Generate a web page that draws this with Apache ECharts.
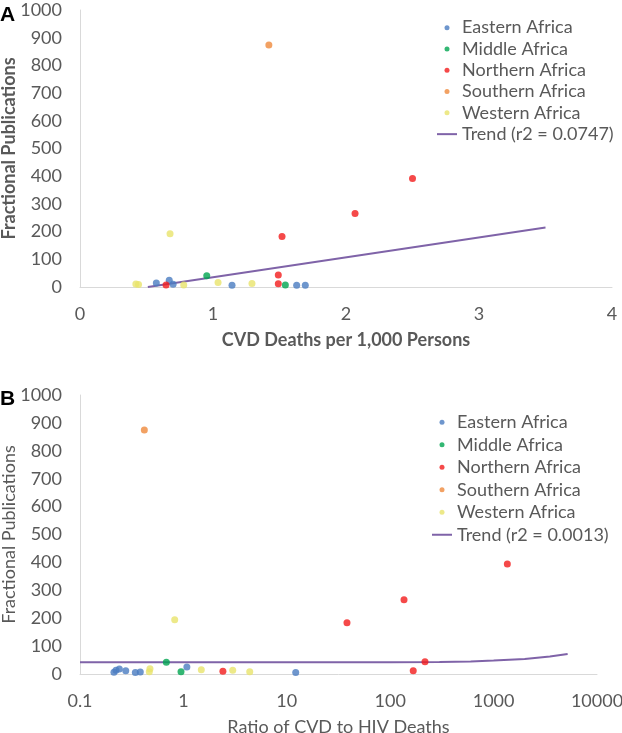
<!DOCTYPE html>
<html>
<head>
<meta charset="utf-8">
<script src="https://cdn.jsdelivr.net/npm/echarts@6/dist/echarts.min.js"></script>
<style>
  html, body { margin: 0; padding: 0; background: #fff; }
  #chart { width: 622px; height: 733px; }
</style>
</head>
<body>
<div id="chart"></div>
<script>
// region names and colours
const regions = ['Eastern Africa', 'Middle Africa', 'Northern Africa', 'Southern Africa', 'Western Africa'];
const regionColors = ['#4A7CC0', '#00A550', '#F21B1B', '#EF8A3C', '#E9E36C'];

// panel A: CVD deaths per 1,000 persons vs fractional publications
const deathsEastern = [[0.574, 14], [0.671, 24], [0.70, 10], [1.143, 6], [1.629, 6], [1.694, 6]];
const deathsMiddle = [[0.953, 41], [1.544, 7]];
const deathsNorthern = [[0.647, 7], [1.491, 43], [1.491, 12], [1.519, 182], [2.068, 265], [2.50, 392]];
const deathsSouthern = [[1.42, 874]];
const deathsWestern = [[0.42, 11], [0.44, 9], [0.677, 192], [0.78, 7], [1.038, 16], [1.293, 13]];
const trendA = [[0.51, 0], [3.5, 215]];

// panel B: ratio of CVD to HIV deaths vs fractional publications
const ratioEastern = [[0.213, 6], [0.223, 13], [0.24, 18], [0.277, 12], [0.343, 5], [0.383, 7], [1.08, 25], [12.2, 5]];
const ratioMiddle = [[0.684, 42], [0.948, 8]];
const ratioNorthern = [[2.41, 10], [38.2, 184], [136, 266], [167, 12], [217, 44], [1358, 394]];
const ratioSouthern = [[0.419, 875]];
const ratioWestern = [[0.468, 8], [0.475, 19], [0.824, 194], [1.49, 15], [3.0, 13], [4.38, 8]];
const trendB = [[0.1, 42], [100, 42], [300, 43], [600, 45], [1000, 48], [2000, 54], [3500, 63], [5200, 72]];

const trendNameA = 'Trend (r2 = 0.0747)';
const trendNameB = 'Trend (r2 = 0.0013)';

const font = 'Lato';
const fontSize = 18;
const grey = '#595959';
const axisGrey = '#D9D9D9';

const seriesA = [deathsEastern, deathsMiddle, deathsNorthern, deathsSouthern, deathsWestern];
const seriesB = [ratioEastern, ratioMiddle, ratioNorthern, ratioSouthern, ratioWestern];

const chart = echarts.init(document.getElementById('chart'));

function scatter(name, data, idx, color) {
  return {
    name: name,
    type: 'scatter',
    xAxisIndex: idx,
    yAxisIndex: idx,
    data: data,
    symbolSize: 7,
    itemStyle: { color: color },
    z: 3
  };
}

function legendFor(top, left, trendName, lineH) {
  const items = regions.map(function (r) { return { name: r, icon: 'circle' }; });
  items.push({ name: trendName, icon: 'path://M0,0 L20,0 L20,2 L0,2 Z' });
  return {
    orient: 'vertical',
    left: left,
    top: top,
    padding: 0,
    itemWidth: 20,
    itemHeight: 5,
    itemGap: 0,
    data: items,
    textStyle: { fontFamily: font, fontSize: fontSize, color: grey, lineHeight: lineH }
  };
}

const series = [];
regions.forEach(function (r, i) {
  series.push(scatter(r, seriesA[i], 0, regionColors[i]));
});
series.push({
  name: trendNameA, type: 'line', xAxisIndex: 0, yAxisIndex: 0,
  data: trendA, showSymbol: false, symbol: 'none',
  lineStyle: { color: '#7F63A8', width: 2 }, itemStyle: { color: '#7F63A8' }, z: 2
});
regions.forEach(function (r, i) {
  series.push(scatter(r, seriesB[i], 1, regionColors[i]));
});
series.push({
  name: trendNameB, type: 'line', xAxisIndex: 1, yAxisIndex: 1,
  data: trendB, showSymbol: false, symbol: 'none',
  lineStyle: { color: '#7F63A8', width: 2 }, itemStyle: { color: '#7F63A8' }, z: 2
});

const plain = function (v) { return String(Math.round(v * 10) / 10); };
const axisLabel = { fontFamily: font, fontSize: fontSize, color: grey, margin: 18, formatter: plain };
const titleStyle = { fontFamily: font, fontSize: fontSize, color: grey };
const boldTitle = Object.assign({}, titleStyle, { fontWeight: 'bold' });

const option = {
  animation: false,
  backgroundColor: '#fff',
  grid: [
    { left: 80, top: 10, width: 532, height: 277, outerBoundsMode: 'none' },
    { left: 80, top: 395, width: 517, height: 279, outerBoundsMode: 'none' }
  ],
  legend: [
    legendFor(17, 437, trendNameA, 21.3),
    legendFor(411, 432, trendNameB, 22.5)
  ],
  xAxis: [
    {
      gridIndex: 0, type: 'value', min: 0, max: 4, interval: 1,
      name: 'CVD Deaths per 1,000 Persons', nameLocation: 'middle', nameGap: 44,
      nameMoveOverlap: false,
      nameTextStyle: boldTitle,
      axisLine: { lineStyle: { color: axisGrey } },
      axisTick: { show: false },
      splitLine: { show: false },
      axisLabel: axisLabel
    },
    {
      gridIndex: 1, type: 'log', logBase: 10, min: 0.1, max: 10000,
      name: 'Ratio of CVD to HIV Deaths', nameLocation: 'middle', nameGap: 44,
      nameMoveOverlap: false,
      nameTextStyle: titleStyle,
      axisLine: { lineStyle: { color: axisGrey } },
      axisTick: { show: false },
      splitLine: { show: false },
      minorSplitLine: { show: false },
      axisLabel: axisLabel
    }
  ],
  yAxis: [
    {
      gridIndex: 0, type: 'value', min: 0, max: 1000, interval: 100,
      name: 'Fractional Publications', nameLocation: 'middle', nameGap: 62, nameRotate: 90,
      nameMoveOverlap: false,
      nameTextStyle: boldTitle,
      axisLine: { show: true, lineStyle: { color: axisGrey } },
      axisTick: { show: false },
      splitLine: { show: false },
      axisLabel: axisLabel
    },
    {
      gridIndex: 1, type: 'value', min: 0, max: 1000, interval: 100,
      name: 'Fractional Publications', nameLocation: 'middle', nameGap: 62, nameRotate: 90,
      nameMoveOverlap: false,
      nameTextStyle: titleStyle,
      axisLine: { show: true, lineStyle: { color: axisGrey } },
      axisTick: { show: false },
      splitLine: { show: false },
      axisLabel: axisLabel
    }
  ],
  graphic: [
    { type: 'text', left: 0, top: 5, style: { text: 'A', font: 'bold 21px "Liberation Sans"', fill: '#000' } },
    { type: 'text', left: 0, top: 389, style: { text: 'B', font: 'bold 21px "Liberation Sans"', fill: '#000' } }
  ],
  series: series
};

chart.setOption(option);
</script>
</body>
</html>
